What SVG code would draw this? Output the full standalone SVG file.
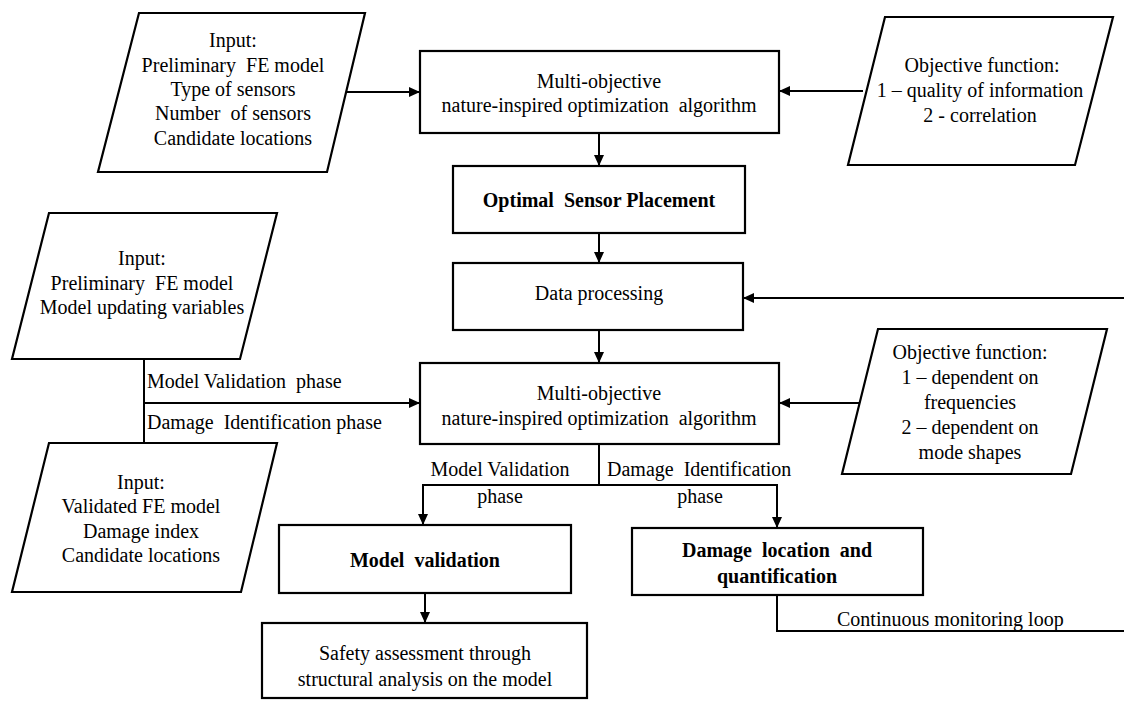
<svg xmlns="http://www.w3.org/2000/svg" width="1124" height="707" viewBox="0 0 1124 707">
<defs>
<style>
.box{fill:#fff;stroke:#000;stroke-width:2.2}
.t{font-family:"Liberation Serif","Times New Roman",serif;font-size:20px;fill:#000;text-anchor:middle;white-space:pre}
.b{font-weight:bold}
.l{text-anchor:start}
.c{fill:none;stroke:#000;stroke-width:2}
</style>
<marker id="ah" markerUnits="userSpaceOnUse" markerWidth="12" markerHeight="10" refX="11" refY="5" orient="auto">
<path d="M0,0 L11,5 L0,10 z" fill="#000"/>
</marker>
</defs>
<rect width="1124" height="707" fill="#fff"/>

<g id="connectors">
<line class="c" x1="346" y1="92" x2="420" y2="92" marker-end="url(#ah)"/>
<line class="c" x1="863" y1="91" x2="779" y2="91" marker-end="url(#ah)"/>
<line class="c" x1="599" y1="133" x2="599" y2="166" marker-end="url(#ah)"/>
<line class="c" x1="599" y1="233" x2="599" y2="263" marker-end="url(#ah)"/>
<line class="c" x1="1124" y1="298" x2="743" y2="298" marker-end="url(#ah)"/>
<line class="c" x1="599" y1="330" x2="599" y2="363" marker-end="url(#ah)"/>
<line class="c" x1="144" y1="359" x2="144" y2="443"/>
<line class="c" x1="144" y1="403" x2="420" y2="403" marker-end="url(#ah)"/>
<line class="c" x1="862" y1="403" x2="779" y2="403" marker-end="url(#ah)"/>
<line class="c" x1="599" y1="444" x2="599" y2="485"/>
<line class="c" x1="423" y1="485" x2="777" y2="485"/>
<line class="c" x1="423" y1="484" x2="423" y2="525" marker-end="url(#ah)"/>
<line class="c" x1="777" y1="484" x2="777" y2="528" marker-end="url(#ah)"/>
<line class="c" x1="425" y1="593" x2="425" y2="623" marker-end="url(#ah)"/>
<polyline class="c" points="777,595 777,631 1124,631"/>
<text class="t l" x="147" y="388">Model Validation  phase</text>
<text class="t l" x="147" y="429">Damage  Identification phase</text>
<text class="t" x="500" y="476">Model Validation</text>
<text class="t" x="500" y="503">phase</text>
<text class="t l" x="607" y="476">Damage  Identification</text>
<text class="t" x="700" y="503">phase</text>
<text class="t l" x="837" y="626">Continuous monitoring loop</text>
</g>

<g id="input1">
<polygon class="box" points="139,13 365,13 327,172 98,172"/>
<text class="t" x="233" y="47">Input:</text>
<text class="t" x="233" y="72">Preliminary  FE model</text>
<text class="t" x="233" y="96">Type of sensors</text>
<text class="t" x="233" y="120">Number  of sensors</text>
<text class="t" x="233" y="145">Candidate locations</text>
</g>

<g id="moo1">
<rect class="box" x="420" y="51" width="359" height="82"/>
<text class="t" x="599" y="88">Multi-objective</text>
<text class="t" x="599" y="112">nature-inspired optimization  algorithm</text>
</g>

<g id="objective1">
<polygon class="box" points="885,17 1113,17 1075,165 848,165"/>
<text class="t" x="982" y="72">Objective function:</text>
<text class="t" x="980" y="97">1 – quality of information</text>
<text class="t" x="980" y="122">2 - correlation</text>
</g>

<g id="osp">
<rect class="box" x="453" y="166" width="292" height="67"/>
<text class="t b" x="599" y="207">Optimal  Sensor Placement</text>
</g>

<g id="dataproc">
<rect class="box" x="453" y="263" width="290" height="67"/>
<text class="t" x="599" y="300">Data processing</text>
</g>

<g id="input2">
<polygon class="box" points="49,213 277,213 240,359 12,359"/>
<text class="t" x="142" y="265">Input:</text>
<text class="t" x="142" y="290">Preliminary  FE model</text>
<text class="t" x="142" y="314">Model updating variables</text>
</g>

<g id="moo2">
<rect class="box" x="420" y="363" width="359" height="81"/>
<text class="t" x="599" y="400">Multi-objective</text>
<text class="t" x="599" y="425">nature-inspired optimization  algorithm</text>
</g>

<g id="objective2">
<polygon class="box" points="878,329 1107,329 1071,474 842,474"/>
<text class="t" x="970" y="359">Objective function:</text>
<text class="t" x="970" y="384">1 – dependent on</text>
<text class="t" x="970" y="409">frequencies</text>
<text class="t" x="970" y="434">2 – dependent on</text>
<text class="t" x="970" y="459">mode shapes</text>
</g>

<g id="input3">
<polygon class="box" points="49,443 277,443 241,592 12,592"/>
<text class="t" x="141" y="489">Input:</text>
<text class="t" x="141" y="513">Validated FE model</text>
<text class="t" x="141" y="538">Damage index</text>
<text class="t" x="141" y="562">Candidate locations</text>
</g>

<g id="modelval">
<rect class="box" x="279" y="525" width="292" height="68"/>
<text class="t b" x="425" y="567">Model  validation</text>
</g>

<g id="damage">
<rect class="box" x="632" y="528" width="291" height="67"/>
<text class="t b" x="777" y="557">Damage  location  and</text>
<text class="t b" x="777" y="583">quantification</text>
</g>

<g id="safety">
<rect class="box" x="262" y="623" width="325" height="75"/>
<text class="t" x="425" y="660">Safety assessment through</text>
<text class="t" x="425" y="686">structural analysis on the model</text>
</g>
</svg>
